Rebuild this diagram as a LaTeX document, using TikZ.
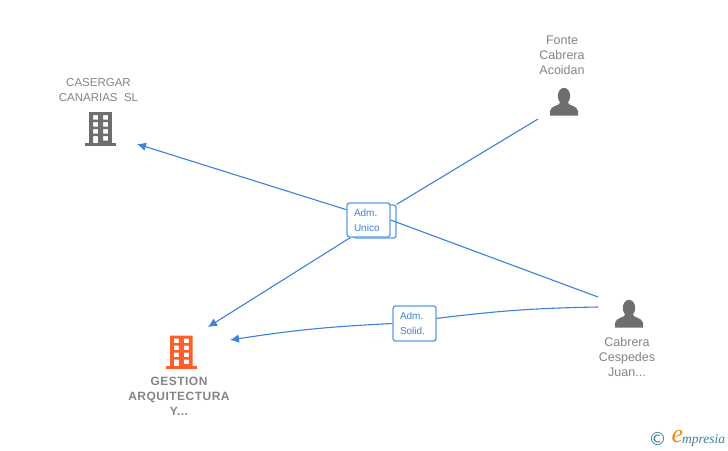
\documentclass[tikz,border=0pt]{standalone}
\usepackage{fontspec}
\setmainfont{Liberation Sans}
\newfontfamily\spacedbf[LetterSpace=4,BoldFont={Liberation Sans Bold}]{Liberation Sans}
\newfontfamily\logofont{Liberation Serif}
\newfontfamily\symfont{DejaVu Sans}
\usetikzlibrary{arrows.meta,positioning}
\definecolor{coloradm}{HTML}{3C80E0}
\definecolor{colorbox}{HTML}{5C9AE8}
\definecolor{colorname}{HTML}{858585}
\definecolor{coloricon}{HTML}{6E6E6E}
\definecolor{colorhot}{HTML}{FF5E2C}
\definecolor{colorlogo}{HTML}{3E8296}
\definecolor{colorlogoe}{HTML}{F08A1C}
\tikzset{
  edgeadm/.style={coloradm,line width=1.1pt,-{Latex[length=9pt,width=8.5pt]}},
  edgeplain/.style={coloradm,line width=1.1pt},
  badge/.style={draw=colorbox,line width=1.3pt,fill=white,rounded corners=2.5pt,
    minimum width=43pt,minimum height=34pt,inner sep=0pt,text width=29pt,align=left,text=coloradm,
    font=\fontsize{10}{15}\selectfont},
  badgeback/.style={badge,minimum height=33pt},
  person/.style={colorname,align=center,font=\fontsize{12.5}{15}\selectfont},
  firm/.style={colorname,align=center,font=\fontsize{11.5}{15}\selectfont},
  firmhot/.style={colorname,align=center,font=\fontsize{12}{15}\selectfont\spacedbf\bfseries}
}
% building icon: colour, centre x, top y
\newcommand\iconfirm[3]{
  \fill[#1,even odd rule] (#2-11.3,#3) rectangle (#2+11.3,#3+31)
    (#2-7.5,#3+3) rectangle (#2-2.5,#3+7.5) (#2+2.5,#3+3) rectangle (#2+7.5,#3+7.5)
    (#2-7.5,#3+10) rectangle (#2-2.5,#3+14.5) (#2+2.5,#3+10) rectangle (#2+7.5,#3+14.5)
    (#2-7.5,#3+17) rectangle (#2-2.5,#3+21.5) (#2+2.5,#3+17) rectangle (#2+7.5,#3+21.5)
    (#2-7.5,#3+24) rectangle (#2-2.5,#3+31) (#2+2.5,#3+24) rectangle (#2+7.5,#3+28.5);
  \fill[#1] (#2-15.7,#3+30.5) rectangle (#2+15.7,#3+33.5);
}
% person icon: centre x, top y
\newcommand\iconperson[2]{
  \fill[coloricon] (#1,#2+8) ellipse (6.2 and 8.2);
  \fill[coloricon] (#1-3.5,#2+14) .. controls (#1-4,#2+18) and (#1-13.5,#2+17.5) .. (#1-14,#2+23)
    -- (#1-14,#2+27.5) -- (#1+14,#2+27.5) -- (#1+14,#2+23)
    .. controls (#1+13.5,#2+17.5) and (#1+4,#2+18) .. (#1+3.5,#2+14) -- cycle;
}
\begin{document}
\begin{tikzpicture}[x=1pt,y=-1pt]
\useasboundingbox (0,0) rectangle (728,450);
\fill[white] (0,0) rectangle (728,450);
\iconfirm{coloricon}{100.5}{112}
\iconfirm{colorhot}{181.3}{335.5}
\iconperson{564}{88}
\iconperson{629}{300}
\node[firm] (casergar) at (98.5,90) {CASERGAR\\CANARIAS\ \ SL};
\node[firmhot] (gestion) at (179,396) {GESTION\\ARQUITECTURA\\Y...};
\node[person] (fonte) at (562,55) {Fonte\\Cabrera\\Acoidan};
\node[person] (cabrera) at (627,357) {Cabrera\\Cespedes\\Juan...};
\coordinate (arrowcasergar) at (137,144);
\coordinate (arrowgestion) at (208,327);
\coordinate (arrowgestionb) at (230,340);
\coordinate (startfonte) at (538,119);
\coordinate (startcabrera) at (598,297);
\coordinate (startcabrerab) at (598,307);
\node[badgeback] (admback) at (374.5,221.5) {};
\node[badge] (admunico) at (368.5,220) {Adm.\\Unico};
\node[badge,minimum height=35pt] (admsolid) at (414.5,323.5) {Adm.\\Solid.};
\draw[edgeplain] (startfonte) -- (admback.north east);
\draw[edgeplain] (startcabrera) -- (admunico.east);
\draw[edgeadm] (admunico.155) -- (arrowcasergar);
\draw[edgeadm] (admunico.224) -- (arrowgestion);
\draw[edgeplain] (startcabrerab) to[bend right=3] (admsolid.13);
\draw[edgeadm] (admsolid.west) to[bend right=3] (arrowgestionb);
\node[text=colorlogo,font=\fontsize{18}{18}\selectfont\symfont] (logoc) at (657.5,438.5) {©};
\node[text=colorlogoe,font=\fontsize{26}{26}\selectfont\logofont\itshape] (logoe) at (677.5,436.5) {e};
\node[text=colorlogo,font=\fontsize{13.5}{14}\selectfont\logofont\itshape,anchor=west,inner sep=0pt] (logotext) at (682,440) {mpresia};
\end{tikzpicture}
\end{document}
